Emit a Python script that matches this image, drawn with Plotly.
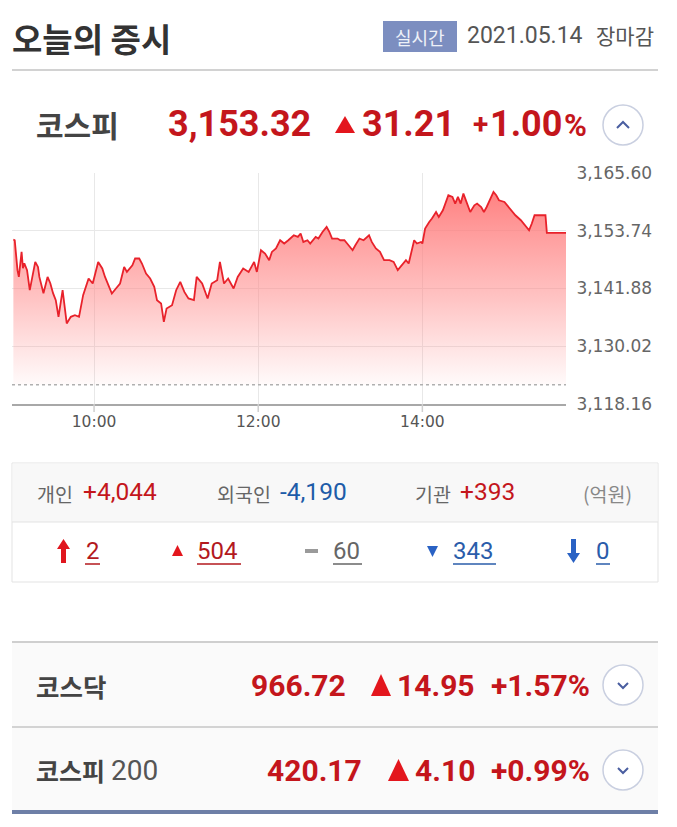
import plotly.graph_objects as go

# ---------------- data ----------------
times_min = [1, 2, 4, 5, 7, 8, 9, 11, 13, 15, 17, 19, 20, 23, 26, 28, 30, 32, 34, 37, 40, 43, 46, 49, 52, 56, 59,
             63, 66, 68, 73, 76, 79, 82, 84, 88, 90, 93, 95, 98, 101, 104, 106, 109, 111, 113, 117, 120, 123, 126,
             129, 133, 135, 139, 143, 146, 150, 152, 155, 158, 162, 165, 169, 173, 177, 179, 182, 185, 188, 190,
             193, 196, 199, 202, 206, 209, 211, 213, 216, 218, 222, 224, 227, 230, 232, 234, 238, 240, 243, 245,
             249, 251, 254, 257, 261, 263, 266, 269, 272, 276, 279, 282, 285, 288, 290, 291, 294, 296, 299, 300,
             302, 305, 307, 310, 312, 315, 317, 319, 322, 324, 326, 328, 330, 333, 335, 338, 340, 343, 345, 347,
             350, 352, 354, 356, 360, 362, 365, 368, 372, 376, 378, 380, 382, 390, 391, 405]
kospi = [3151.94, 3151.79, 3145.64, 3144.26, 3149.39, 3146.05, 3147.07, 3145.64, 3141.53, 3144.26, 3147.34,
         3146.31, 3144.26, 3140.92, 3144.26, 3142.97, 3140.92, 3139.48, 3136.06, 3141.53, 3134.70, 3136.06,
         3136.40, 3136.06, 3140.51, 3143.93, 3142.91, 3147.34, 3145.99, 3144.26, 3140.86, 3141.88, 3142.91,
         3146.31, 3145.29, 3146.66, 3148.04, 3148.04, 3147.01, 3144.96, 3143.93, 3142.21, 3139.48, 3138.81,
         3135.03, 3137.78, 3138.46, 3141.53, 3143.24, 3141.18, 3139.83, 3139.48, 3144.26, 3142.91, 3139.83,
         3142.91, 3143.59, 3147.34, 3142.91, 3143.93, 3141.88, 3144.26, 3145.99, 3145.29, 3147.34, 3145.29,
         3149.74, 3149.06, 3147.69, 3149.39, 3150.09, 3151.79, 3151.12, 3151.79, 3152.82, 3152.47, 3153.17,
         3151.44, 3151.79, 3151.12, 3152.47, 3152.14, 3153.50, 3154.52, 3153.50, 3152.14, 3152.14, 3151.79,
         3151.79, 3151.12, 3149.74, 3150.77, 3152.14, 3151.79, 3152.82, 3151.44, 3150.09, 3149.39, 3147.69,
         3147.69, 3147.34, 3145.64, 3146.66, 3147.69, 3147.01, 3148.37, 3151.79, 3151.12, 3151.44, 3151.12,
         3154.19, 3155.55, 3156.24, 3157.60, 3156.57, 3157.95, 3159.32, 3161.02, 3160.68, 3159.32, 3160.68,
         3159.32, 3161.37, 3159.32, 3157.60, 3158.97, 3159.32, 3158.62, 3157.60, 3158.62, 3160.35, 3161.70,
         3161.02, 3160.00, 3159.65, 3158.97, 3157.95, 3156.92, 3155.90, 3154.52, 3153.84, 3155.22, 3156.92,
         3156.92, 3153.32, 3153.32]
prev_close = 3122.11
x_range = [0, 405]
y_range = [3118.16, 3165.60]
ytick_vals = [3118.16, 3130.02, 3141.88, 3153.74, 3165.60]
ytick_text = ["3,118.16", "3,130.02", "3,141.88", "3,153.74", "3,165.60"]
xtick_vals = [60, 180, 300]
xtick_text = ["10:00", "12:00", "14:00"]

title_text = "오늘의 증시"
badge_text = "실시간"
date_text = "2021.05.14"
date_status = "장마감"

kospi_row = ["코스피", "3,153.32", "31.21", "+", "1.00", "%"]
investors = [("개인", "+4,044"), ("외국인", "-4,190"), ("기관", "+393")]
unit_text = "(억원)"
breadth = ["2", "504", "60", "343", "0"]
kosdaq_row = ["코스닥", "966.72", "14.95", "+1.57%"]
k200_row = ["코스피", "200", "420.17", "4.10", "+0.99%"]

# ---------------- layout helpers ----------------
# the page body adds an 8px margin, so the figure is drawn 8px smaller and all
# screen positions below are shifted by that offset
OFF = 8
W, H = 677 - OFF, 827 - OFF
L, R, T, B = 12, 566, 173, 404          # plot area in screen pixels
KR = "Noto Sans CJK KR"
NUM = "Roboto, Noto Sans CJK KR"
RED = "#c4161c"
TRI_RED = "#e3161d"
BLUE = "#1d5ca8"


def px(x):
    return (x - L) / (R - L)


def py(y):
    return (B - y) / (B - T)


ann = []
shp = []


def txt(x, y, s, size, color, family=NUM, weight="normal", anchor="left"):
    ann.append(dict(x=px(x), y=py(y), xref="paper", yref="paper", text=s, showarrow=False,
                    xanchor=anchor, yanchor="middle", borderpad=0,
                    font=dict(size=size, color=color, family=family, weight=weight)))


def line(x0, y0, x1, y1, color, width=1, dash="solid"):
    shp.append(dict(type="line", xref="paper", yref="paper", x0=px(x0), y0=py(y0), x1=px(x1), y1=py(y1),
                    line=dict(color=color, width=width, dash=dash), layer="above"))


def rect(x0, y0, x1, y1, fill, lc=None, lw=0, layer="below"):
    shp.append(dict(type="rect", xref="paper", yref="paper", x0=px(x0), y0=py(y0), x1=px(x1), y1=py(y1),
                    fillcolor=fill, line=dict(color=lc or fill, width=lw), layer=layer))


def poly(pts, fill, lc=None, lw=0):
    d = "M " + " L ".join(f"{px(a):.5f},{py(b):.5f}" for a, b in pts) + " Z"
    shp.append(dict(type="path", xref="paper", yref="paper", path=d, fillcolor=fill,
                    line=dict(color=lc or fill, width=lw), layer="above"))


def polyline(pts, color, width):
    d = "M " + " L ".join(f"{px(a):.5f},{py(b):.5f}" for a, b in pts)
    shp.append(dict(type="path", xref="paper", yref="paper", path=d,
                    line=dict(color=color, width=width), layer="above"))


def circle(cx, cy, r):
    shp.append(dict(type="circle", xref="paper", yref="paper", x0=px(cx - r), y0=py(cy + r),
                    x1=px(cx + r), y1=py(cy - r), fillcolor="#ffffff",
                    line=dict(color="#c9cfe0", width=1.5), layer="above"))


def up_tri(x0, x1, y0, y1, color):
    poly([((x0 + x1) / 2, y0), (x1, y1), (x0, y1)], color)


def down_tri(x0, x1, y0, y1, color):
    poly([(x0, y0), (x1, y0), ((x0 + x1) / 2, y1)], color)


# ---------------- header ----------------
txt(11, 38, title_text, 33, "#333333", KR, "bold")
rect(383, 21, 457, 52, "#7c8ec0", layer="above")
txt(420, 36.5, badge_text, 18, "#eef1f8", KR, anchor="center")
txt(466, 35, date_text, 23, "#555555", NUM)
txt(595, 35, date_status, 21, "#555555", KR)
line(12, 70, 658, 70, "#d2d2d2", 2)

# KOSPI main row
txt(35, 124, kospi_row[0], 30, "#444444", KR, "bold")
txt(167, 124, kospi_row[1], 36, RED, NUM, "bold")
up_tri(335, 355, 116, 133, TRI_RED)
txt(361, 124, kospi_row[2], 36, RED, NUM, "bold")
txt(472, 124, kospi_row[3], 28, RED, NUM, "bold")
txt(489, 124, kospi_row[4], 36, RED, NUM, "bold")
txt(563, 126, kospi_row[5], 31, RED, NUM, "bold")
circle(623, 125, 20)
polyline([(617, 128), (623, 122), (629, 128)], "#4a5ea0", 2)

# previous close dotted line
shp.append(dict(type="line", xref="paper", yref="y", x0=0, x1=1, y0=prev_close, y1=prev_close,
                line=dict(color="#b0b0b0", width=1.5, dash="dot"), layer="above"))

# x tick marks below the axis line
for tv in xtick_vals:
    shp.append(dict(type="line", xref="x", yref="paper", x0=tv, x1=tv, y0=py(404), y1=py(412),
                    line=dict(color="#cfcfcf", width=1.5), layer="above"))

# ---------------- investor box ----------------
rect(12, 463, 658, 582, "#ffffff", "#e3e3e3", 1)
rect(12.5, 463.5, 657.5, 522, "#f8f8f8")
line(12, 522, 658, 522, "#e3e3e3", 1)
txt(36, 493, investors[0][0], 19.5, "#666666", KR)
txt(82, 491, investors[0][1], 24.5, RED, NUM)
txt(216, 493, investors[1][0], 19.5, "#666666", KR)
txt(279, 491, investors[1][1], 24.5, BLUE, NUM)
txt(414, 493, investors[2][0], 19.5, "#666666", KR)
txt(459, 491, investors[2][1], 24.5, RED, NUM)
txt(582, 493, unit_text, 19.5, "#888888", KR)

# breadth row
by = 551
poly([(63.5, 539), (70, 549), (66, 549), (66, 563), (61, 563), (61, 549), (57, 549)], "#e0161e")
txt(85, by, breadth[0], 24, "#b3191e", NUM)
line(85, 564, 100, 564, "#b3191e", 1.5)
up_tri(172, 183, 545, 556, TRI_RED)
txt(196, by, breadth[1], 24, "#b3191e", NUM)
line(197, 564, 241, 564, "#b3191e", 1.5)
rect(305, 549, 318, 553, "#9a9a9a", layer="above")
txt(332, by, breadth[2], 24, "#666666", NUM)
line(333, 564, 362, 564, "#666666", 1.5)
down_tri(427, 438, 546, 557, "#2a62c4")
txt(452, by, breadth[3], 24, "#2a5caa", NUM)
line(453, 564, 496, 564, "#2a5caa", 1.5)
poly([(573.5, 563), (580, 553), (576, 553), (576, 539), (571, 539), (571, 553), (567, 553)], "#2a62c4")
txt(595, by, breadth[4], 24, "#2a5caa", NUM)
line(596, 564, 610, 564, "#2a5caa", 1.5)

# ---------------- lower index rows ----------------
rect(12, 643, 658, 810, "#fafafa")
line(12, 642, 658, 642, "#cfcfcf", 2)
line(12, 727, 658, 727, "#d3d3d3", 2)
line(12, 812, 658, 812, "#6e7fa7", 4)

txt(35, 685, kosdaq_row[0], 25.5, "#444444", KR, "bold")
txt(347, 685, kosdaq_row[1], 30, RED, NUM, "bold", anchor="right")
up_tri(371, 391, 674, 696, TRI_RED)
txt(476, 685, kosdaq_row[2], 30, RED, NUM, "bold", anchor="right")
txt(591, 685, kosdaq_row[3], 30, RED, NUM, "bold", anchor="right")
circle(623, 685, 20)
polyline([(618, 683), (623, 688), (628, 683)], "#4a5ea0", 2)

txt(35, 770, k200_row[0], 25, "#444444", KR, "bold")
txt(110, 770, k200_row[1], 28, "#555555", NUM)
txt(363, 770, k200_row[2], 30, RED, NUM, "bold", anchor="right")
up_tri(388, 409, 759, 781, TRI_RED)
txt(476, 770, k200_row[3], 30, RED, NUM, "bold", anchor="right")
txt(591, 770, k200_row[4], 30, RED, NUM, "bold", anchor="right")
circle(623, 770, 20)
polyline([(618, 768), (623, 773), (628, 768)], "#4a5ea0", 2)

# ---------------- chart ----------------
fig = go.Figure()
fig.add_trace(go.Scatter(x=[times_min[0], times_min[-1]], y=[prev_close, prev_close], mode="lines",
                         line=dict(width=0, color="rgba(0,0,0,0)"), hoverinfo="skip", showlegend=False))
fig.add_trace(go.Scatter(
    x=times_min, y=kospi, mode="lines", line=dict(color="#e8222b", width=1.8),
    fill="tonexty",
    fillgradient=dict(type="vertical", start=prev_close, stop=max(kospi),
                      colorscale=[[0, "rgba(255,140,140,0.04)"], [0.45, "rgba(255,135,135,0.5)"],
                                  [1, "rgba(255,115,115,0.9)"]]),
    hoverinfo="skip", showlegend=False))

fig.update_layout(
    width=W, height=H, autosize=False,
    margin=dict(l=L - OFF, r=W - (R - OFF), t=T - OFF, b=H - (B - OFF), pad=0),
    paper_bgcolor="#ffffff", plot_bgcolor="#ffffff",
    showlegend=False, hovermode=False,
    annotations=ann, shapes=shp,
    xaxis=dict(range=x_range, tickvals=xtick_vals, ticktext=xtick_text, showgrid=True,
               gridcolor="#e8e8e8", gridwidth=1, ticks="outside", ticklen=3, tickcolor="rgba(0,0,0,0)",
               showline=True, linecolor="#a8a8a8", linewidth=1.5, zeroline=False, automargin=False,
               tickfont=dict(family="DejaVu Sans", size=15.5, color="#555555"), fixedrange=True),
    yaxis=dict(range=y_range, side="right", tickvals=ytick_vals, ticktext=ytick_text, showgrid=True,
               gridcolor="#e8e8e8", gridwidth=1, ticks="outside", ticklen=6, tickcolor="rgba(0,0,0,0)",
               showline=False, zeroline=False, automargin=False,
               tickfont=dict(family="DejaVu Sans", size=17, color="#666666"), fixedrange=True),
)

fig.write_html("out.html")
